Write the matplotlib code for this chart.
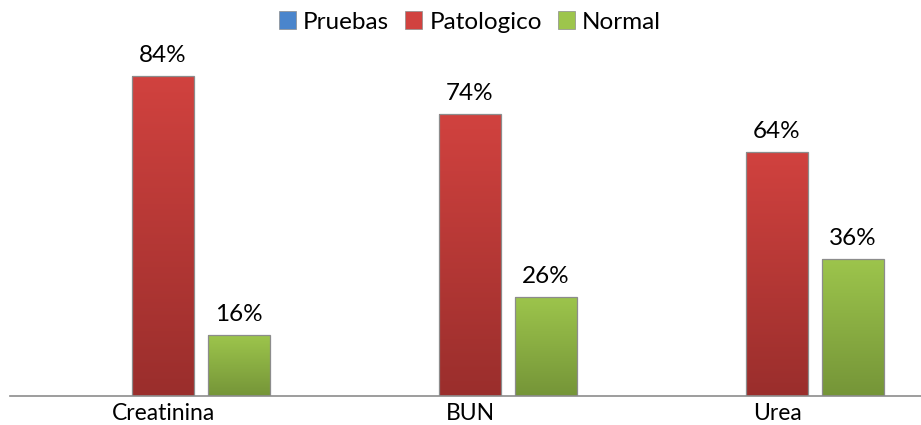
import numpy as np
import matplotlib
matplotlib.use("Agg")
import matplotlib.pyplot as plt
from matplotlib.colors import to_rgb
from matplotlib.patches import Patch

plt.rcParams['font.family'] = ['Lato', 'DejaVu Sans']

categories = ["Creatinina", "BUN", "Urea"]
series_names = ["Pruebas", "Patologico", "Normal"]
pruebas = [0, 0, 0]
patologico = [84, 74, 64]
normal = [16, 26, 36]

grad_colors = {
    "Pruebas": ("#4A85CC", "#2E5E9C"),
    "Patologico": ("#D1423F", "#9A2E2C"),
    "Normal": ("#9DC54C", "#759538"),
}

W, H = 921, 425
fig = plt.figure(figsize=(W / 100, H / 100), dpi=100)
ax_left = 10 / W
ax_bottom = (H - 396) / H
ax_top_px = 40
ax = fig.add_axes([ax_left, ax_bottom, 1 - ax_left, (396 - ax_top_px) / H])

x = np.arange(len(categories))
step = 0.2476
width = 0.199
values = [pruebas, patologico, normal]

def gradient_image(top, bottom, n=256):
    t = np.linspace(0, 1, n)[:, None]
    c1 = np.array(to_rgb(top))
    c2 = np.array(to_rgb(bottom))
    img = c1 * (1 - t) + c2 * t
    return img[:, None, :]

for i, (name, vals) in enumerate(zip(series_names, values)):
    bars = ax.bar(x + (i - 1) * step, vals, width, facecolor='none',
                  edgecolor='#8C8C8C', linewidth=0.9, zorder=3)
    top, bottom = grad_colors[name]
    img = gradient_image(top, bottom)
    for b, v in zip(bars, vals):
        if v <= 0:
            b.set_visible(False)
            continue
        x0, y0 = b.get_x(), b.get_y()
        w, h = b.get_width(), b.get_height()
        im = ax.imshow(img, extent=[x0, x0 + w, y0, y0 + h], aspect='auto',
                       zorder=2, interpolation='bilinear')
        im.set_clip_path(b)
        ax.text(x0 + w / 2, y0 + h + 2.6, f"{v}%", ha='center', va='bottom',
                fontsize=17.5, color='#000000', zorder=4)

ax.set_xlim(-153 / 307, (W - 10 - 153) / 307)
ax.set_ylim(0, (396 - ax_top_px) / 3.81)
ax.set_xticks(x)
ax.set_xticklabels(categories, fontsize=16.5)
ax.tick_params(axis='x', length=0, pad=5)
ax.set_yticks([])
for s in ['left', 'right', 'top']:
    ax.spines[s].set_visible(False)
ax.spines['bottom'].set_color('#8C8C8C')
ax.spines['bottom'].set_linewidth(1.2)
ax.spines['bottom'].set_zorder(5)

handles = [Patch(facecolor=grad_colors[n][0], edgecolor='#8C8C8C', linewidth=0.5)
           for n in series_names]
fig.legend(handles, series_names, loc='center', bbox_to_anchor=(470 / W, 1 - 22 / H),
           ncol=3, frameon=False, fontsize=17.5, handlelength=0.7, handleheight=0.7,
           handletextpad=0.3, columnspacing=0.65, borderpad=0)

fig.savefig("out.png", dpi=100)
